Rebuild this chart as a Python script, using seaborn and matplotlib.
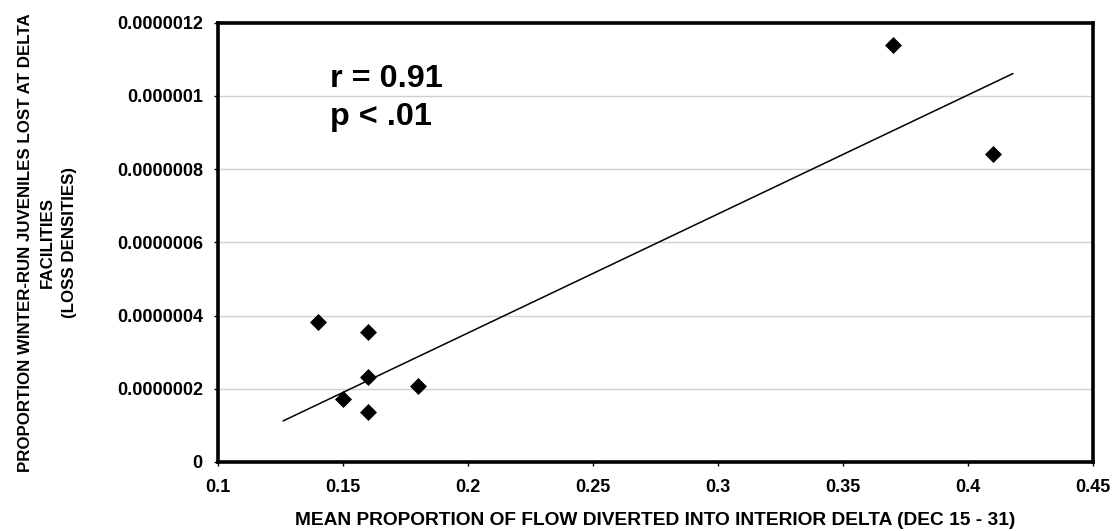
import matplotlib
matplotlib.use("Agg")
import matplotlib.pyplot as plt
import seaborn as sns
import pandas as pd

# Data
flow_diverted = [0.37, 0.41, 0.14, 0.16, 0.16, 0.18, 0.15, 0.16]
loss_density = [1.14e-6, 8.4e-7, 3.83e-7, 3.55e-7, 2.33e-7, 2.07e-7, 1.72e-7, 1.36e-7]

# Trend line endpoints as drawn in the reference
trend_x = [0.126, 0.418]
trend_y = [1.12e-7, 1.061e-6]

x_ticks = [0.1, 0.15, 0.2, 0.25, 0.3, 0.35, 0.4, 0.45]
x_tick_labels = ["0.1", "0.15", "0.2", "0.25", "0.3", "0.35", "0.4", "0.45"]
y_ticks = [0, 2e-7, 4e-7, 6e-7, 8e-7, 1e-6, 1.2e-6]
y_tick_labels = ["0", "0.0000002", "0.0000004", "0.0000006", "0.0000008", "0.000001", "0.0000012"]

x_label = "MEAN PROPORTION OF FLOW DIVERTED INTO INTERIOR DELTA (DEC 15 - 31)"
y_label = "PROPORTION WINTER-RUN JUVENILES LOST AT DELTA\nFACILITIES\n(LOSS DENSITIES)"
stats_text = "r = 0.91\np < .01"

sns.set_theme(style="white")
plt.rcParams["font.family"] = ["Liberation Sans", "DejaVu Sans"]
plt.rcParams["font.weight"] = "bold"
plt.rcParams["text.color"] = "black"
plt.rcParams["axes.labelcolor"] = "black"
plt.rcParams["xtick.color"] = "black"
plt.rcParams["ytick.color"] = "black"

fig = plt.figure(figsize=(11.17, 5.31), dpi=100)
ax = fig.add_axes([0.1952, 0.130, 0.7833, 0.8273])

df = pd.DataFrame({"x": flow_diverted, "y": loss_density})
tr = pd.DataFrame({"x": trend_x, "y": trend_y})

sns.lineplot(data=tr, x="x", y="y", ax=ax, color="black", linewidth=1.1, zorder=3)
sns.scatterplot(data=df, x="x", y="y", ax=ax, marker="D", s=75, color="black",
                edgecolor="black", linewidth=0, zorder=4)

ax.set_xlim(0.1, 0.45)
ax.set_ylim(0, 1.2e-6)
ax.set_xticks(x_ticks)
ax.set_xticklabels(x_tick_labels, fontsize=13, fontweight="bold")
ax.set_yticks(y_ticks)
ax.set_yticklabels(y_tick_labels, fontsize=13, fontweight="bold")

ax.yaxis.grid(True, color="#d0d0d0", linewidth=1.0)
ax.xaxis.grid(False)
ax.set_axisbelow(True)

for sp in ax.spines.values():
    sp.set_visible(True)
    sp.set_color("black")
    sp.set_linewidth(2.6)

ax.tick_params(axis="both", which="major", direction="out", length=3, width=1,
               color="black", bottom=True, left=True)
ax.tick_params(axis="x", pad=9)
ax.tick_params(axis="y", pad=8)

ax.set_xlabel(x_label, fontsize=13.8, fontweight="bold")
ax.xaxis.set_label_coords(0.5, -0.115)
ax.set_ylabel(y_label, fontsize=12.2, fontweight="bold", linespacing=1.6)
ax.yaxis.set_label_coords(-0.161, 0.5)

ax.text(0.1448, 1.088e-6, stats_text, fontsize=23.3, fontweight="bold",
        va="top", ha="left", linespacing=1.38, transform=ax.transData)

fig.savefig("out.png", dpi=100)
